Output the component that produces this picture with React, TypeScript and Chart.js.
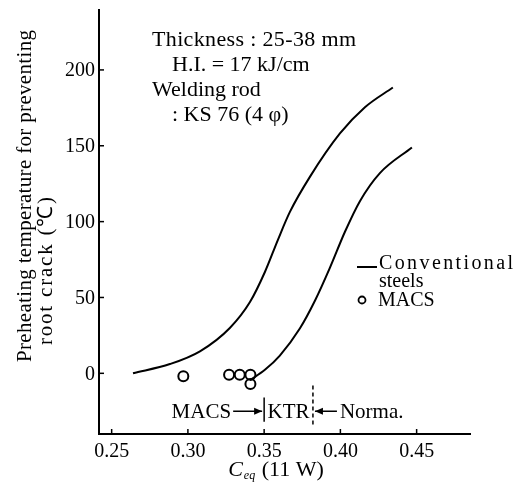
import React, { useEffect, useRef } from "react";
import { Chart, registerables } from "chart.js";

Chart.register(...registerables);

// ---- data ----
const xTicks = [0.25, 0.3, 0.35, 0.4, 0.45];
const xTickLabels = ["0.25", "0.30", "0.35", "0.40", "0.45"];
const yTicks = [0, 50, 100, 150, 200];
const yTickLabels = ["0", "50", "100", "150", "200"];

const lowCeq = [0.264, 0.2882, 0.3079, 0.3275, 0.3407, 0.3505, 0.3591, 0.3669, 0.38, 0.3997, 0.4161, 0.4344];
const lowTemp = [0, 6.1, 14.5, 29.9, 47, 66.8, 88.2, 106.4, 129.5, 158.1, 175.4, 188.4];

const highCeq = [0.3407, 0.3505, 0.3603, 0.3734, 0.3833, 0.3931, 0.403, 0.4128, 0.4259, 0.4469];
const highTemp = [-4.6, 2.3, 11.7, 29.5, 47.8, 69.5, 93.3, 113.5, 132, 148.9];

const macsCeq = [0.297, 0.327, 0.334, 0.341, 0.341];
const macsTemp = [-2, -1, -1, -1, -7];

const rangeBounds = [0.35, 0.382];
const rangeLabels = ["MACS", "KTR", "Norma."];

const noteLines = ["Thickness : 25-38 mm", "H.I. = 17 kJ/cm", "Welding rod", ": KS 76 (4 \u03c6)"];
const legendLabels = ["Conventional", "steels", "MACS"];
const yTitleLines = ["Preheating temperature for preventing", "root crack (\u2103)"];
const xTitleMain = "C";
const xTitleSub = "eq";
const xTitleRest = " (11 W)";

const SERIF = '"Liberation Serif", "Times New Roman", serif';

function toPts(xs: number[], ys: number[]) {
  return xs.map((x, i) => ({ x, y: ys[i] }));
}

function arrow(ctx: CanvasRenderingContext2D, x1: number, x2: number, y: number) {
  ctx.beginPath();
  ctx.moveTo(x1, y);
  ctx.lineTo(x2, y);
  ctx.stroke();
  const dir = x2 > x1 ? 1 : -1;
  ctx.beginPath();
  ctx.moveTo(x2, y);
  ctx.lineTo(x2 - dir * 8, y - 3.5);
  ctx.lineTo(x2 - dir * 8, y + 3.5);
  ctx.closePath();
  ctx.fill();
}

// draw text spread to a target length using letter spacing
function spreadText(ctx: CanvasRenderingContext2D, text: string, x: number, y: number, target: number) {
  const c: any = ctx;
  const w = ctx.measureText(text).width;
  const n = Math.max(1, text.length - 1);
  const sp = Math.max(0, (target - w) / n);
  const prev = c.letterSpacing;
  c.letterSpacing = `${sp.toFixed(2)}px`;
  ctx.fillText(text, x, y);
  c.letterSpacing = prev || "0px";
}

const overlay = {
  id: "overlay",
  afterDraw(chart: any) {
    const ctx: CanvasRenderingContext2D = chart.ctx;
    const xs = chart.scales.x;
    const ys = chart.scales.y;
    const area = chart.chartArea;
    ctx.save();
    ctx.fillStyle = "#000";
    ctx.strokeStyle = "#000";
    ctx.lineWidth = 1.5;

    // tick marks (inside)
    xTicks.forEach((v) => {
      const px = xs.getPixelForValue(v);
      ctx.beginPath();
      ctx.moveTo(px, area.bottom);
      ctx.lineTo(px, area.bottom - 5);
      ctx.stroke();
    });
    yTicks.forEach((v) => {
      const py = ys.getPixelForValue(v);
      ctx.beginPath();
      ctx.moveTo(area.left, py);
      ctx.lineTo(area.left + 5, py);
      ctx.stroke();
    });

    // tick labels
    ctx.font = `20px ${SERIF}`;
    ctx.textAlign = "center";
    ctx.textBaseline = "top";
    xTicks.forEach((v, i) => {
      ctx.fillText(xTickLabels[i], xs.getPixelForValue(v), area.bottom + 8);
    });
    ctx.textAlign = "right";
    ctx.textBaseline = "middle";
    yTicks.forEach((v, i) => {
      ctx.fillText(yTickLabels[i], area.left - 4, ys.getPixelForValue(v) + 1);
    });

    // y title
    ctx.save();
    ctx.font = `21px ${SERIF}`;
    ctx.translate(25, 362);
    ctx.rotate(-Math.PI / 2);
    ctx.textAlign = "left";
    ctx.textBaseline = "middle";
    spreadText(ctx, yTitleLines[0], 0, 0, 332);
    ctx.restore();
    ctx.save();
    ctx.font = `21px ${SERIF}`;
    ctx.translate(46, 345);
    ctx.rotate(-Math.PI / 2);
    ctx.textAlign = "left";
    ctx.textBaseline = "middle";
    spreadText(ctx, yTitleLines[1], 0, 0, 148);
    ctx.restore();

    // x title
    ctx.textBaseline = "alphabetic";
    ctx.textAlign = "left";
    ctx.font = `italic 22px ${SERIF}`;
    const wC = ctx.measureText(xTitleMain).width;
    ctx.font = `italic 12px ${SERIF}`;
    const wS = ctx.measureText(xTitleSub).width;
    ctx.font = `22px ${SERIF}`;
    const wR = ctx.measureText(xTitleRest).width;
    let tx = 276 - (wC + wS + 2 + wR) / 2;
    const base = 476;
    ctx.font = `italic 22px ${SERIF}`;
    ctx.fillText(xTitleMain, tx, base);
    tx += wC + 1;
    ctx.font = `italic 12px ${SERIF}`;
    ctx.fillText(xTitleSub, tx, base + 3);
    tx += wS + 1;
    ctx.font = `22px ${SERIF}`;
    ctx.fillText(xTitleRest, tx, base);

    // notes block
    ctx.font = `22px ${SERIF}`;
    ctx.textAlign = "left";
    spreadText(ctx, noteLines[0], 152, 46, 204);
    ctx.fillText(noteLines[1], 172, 71);
    ctx.fillText(noteLines[2], 152, 96);
    ctx.fillText(noteLines[3], 172, 121);

    // legend
    ctx.lineWidth = 2;
    ctx.beginPath();
    ctx.moveTo(357, 267);
    ctx.lineTo(377, 267);
    ctx.stroke();
    ctx.font = `20px ${SERIF}`;
    spreadText(ctx, legendLabels[0], 379, 269, 134);
    ctx.fillText(legendLabels[1], 379, 287);
    ctx.beginPath();
    ctx.arc(362, 300, 3.5, 0, Math.PI * 2);
    ctx.lineWidth = 1.8;
    ctx.stroke();
    ctx.fillText(legendLabels[2], 378, 306);

    // composition range annotation
    const b0 = xs.getPixelForValue(rangeBounds[0]);
    const b1 = xs.getPixelForValue(rangeBounds[1]);
    const rowY = ys.getPixelForValue(-25);
    ctx.lineWidth = 1.5;
    ctx.beginPath();
    ctx.moveTo(b0, ys.getPixelForValue(-16));
    ctx.lineTo(b0, ys.getPixelForValue(-32));
    ctx.stroke();
    ctx.save();
    ctx.setLineDash([4, 3]);
    ctx.beginPath();
    ctx.moveTo(b1, ys.getPixelForValue(-8));
    ctx.lineTo(b1, ys.getPixelForValue(-35));
    ctx.stroke();
    ctx.restore();
    ctx.font = `21px ${SERIF}`;
    ctx.textBaseline = "middle";
    ctx.textAlign = "right";
    ctx.fillText(rangeLabels[0], b0 - 33, rowY + 1);
    arrow(ctx, b0 - 31, b0 - 2, rowY);
    ctx.textAlign = "center";
    ctx.fillText(rangeLabels[1], (b0 + b1) / 2, rowY + 1);
    arrow(ctx, b1 + 24, b1 + 2, rowY);
    ctx.textAlign = "left";
    ctx.fillText(rangeLabels[2], b1 + 27, rowY + 1);

    ctx.restore();
  },
};

export default function App() {
  const ref = useRef<HTMLCanvasElement | null>(null);
  useEffect(() => {
    if (!ref.current) return;
    const chart = new Chart(ref.current, {
      type: "scatter",
      data: {
        datasets: [
          {
            label: "Conventional steels (low)",
            data: toPts(lowCeq, lowTemp),
            showLine: true,
            borderColor: "#000",
            borderWidth: 2,
            pointRadius: 0,
            cubicInterpolationMode: "monotone",
          },
          {
            label: "Conventional steels (high)",
            data: toPts(highCeq, highTemp),
            showLine: true,
            borderColor: "#000",
            borderWidth: 2,
            pointRadius: 0,
            cubicInterpolationMode: "monotone",
          },
          {
            label: "MACS",
            data: toPts(macsCeq, macsTemp),
            showLine: false,
            pointRadius: 5,
            pointBorderWidth: 2,
            borderColor: "#000",
            pointBorderColor: "#000",
            pointBackgroundColor: "rgba(255,255,255,0)",
            backgroundColor: "rgba(255,255,255,0)",
          },
        ],
      } as any,
      options: {
        responsive: false,
        animation: false,
        devicePixelRatio: 1,
        layout: { padding: { left: 99, right: 46, top: 10, bottom: 50 } },
        plugins: { legend: { display: false }, tooltip: { enabled: false } },
        scales: {
          x: {
            type: "linear",
            min: 0.2417,
            max: 0.485,
            grid: { display: false, drawTicks: false },
            border: { display: true, color: "#000", width: 2 },
            ticks: { display: false },
          },
          y: {
            type: "linear",
            min: -40,
            max: 239.5,
            grid: { display: false, drawTicks: false },
            border: { display: true, color: "#000", width: 2 },
            ticks: { display: false },
          },
        },
      } as any,
      plugins: [overlay],
    });
    return () => chart.destroy();
  }, []);
  return (
    <div style={{ position: "fixed", left: 0, top: 0, width: 516, height: 484, background: "#fff" }}>
      <canvas ref={ref} width={516} height={484} style={{ display: "block" }} />
    </div>
  );
}
